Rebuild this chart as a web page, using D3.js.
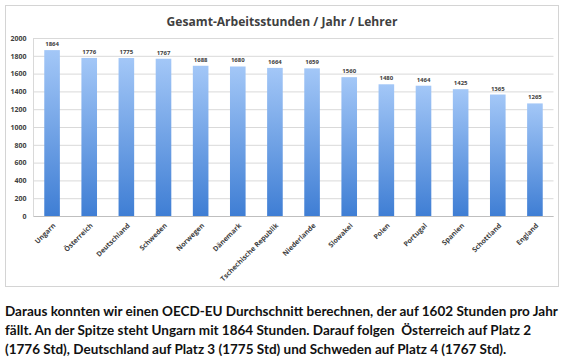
<!DOCTYPE html>
<html>
<head>
<meta charset="utf-8">
<script src="https://cdn.jsdelivr.net/npm/d3@7"></script>
<style>
  html, body { margin: 0; padding: 0; background: #fff; }
  svg { display: block; }
  .grid line { stroke: #d9d9d9; stroke-width: 1; }
  .grid .domain { display: none; }
  .axis text { font-family: "Open Sans", sans-serif; font-weight: 700; fill: #404040; }
  .axis .domain, .axis line { display: none; }
  .caption { white-space: pre; }
</style>
</head>
<body>
<div id="chart"></div>
<script>
const countries = ["Ungarn", "Österreich", "Deutschland", "Schweden", "Norwegen", "Dänemark", "Tschechische Republik", "Niederlande", "Slowakei", "Polen", "Portugal", "Spanien", "Schottland", "England"];
const hours = [1864, 1776, 1775, 1767, 1688, 1680, 1664, 1659, 1560, 1480, 1464, 1425, 1365, 1265];
const yTicks = [0, 200, 400, 600, 800, 1000, 1200, 1400, 1600, 1800, 2000];
const title = "Gesamt-Arbeitsstunden / Jahr / Lehrer";
const caption = [
  "Daraus konnten wir einen OECD-EU Durchschnitt berechnen, der auf 1602 Stunden pro Jahr",
  "fällt. An der Spitze steht Ungarn mit 1864 Stunden. Darauf folgen  Österreich auf Platz 2",
  "(1776 Std), Deutschland auf Platz 3 (1775 Std) und Schweden auf Platz 4 (1767 Std)."
];

const width = 567, height = 361;
const plot = { left: 33.5, right: 553.5, top: 38, bottom: 216 };

const svg = d3.select("#chart").append("svg").attr("width", width).attr("height", height);

// stretch a text element to a given width
function fitText(sel, target) {
  const w = sel.node().getComputedTextLength();
  const fs = parseFloat(sel.attr("font-size"));
  const size = fs * target / w;
  sel.attr("font-size", size.toFixed(2));
  return size;
}

const defs = svg.append("defs");
const grad = defs.append("linearGradient").attr("id", "barGrad").attr("x1", 0).attr("y1", 0).attr("x2", 0).attr("y2", 1);
grad.append("stop").attr("offset", "0%").attr("stop-color", "#a3c7f7");
grad.append("stop").attr("offset", "100%").attr("stop-color", "#3f7ed4");

// chart frame
svg.append("rect").attr("x", 5.5).attr("y", 5.5).attr("width", 553).attr("height", 281)
  .attr("fill", "#fff").attr("stroke", "#d4d4d4").attr("stroke-width", 1);

const x = d3.scaleBand().domain(countries).range([plot.left, plot.right]).paddingInner(0.58).paddingOuter(0.29);
const y = d3.scaleLinear().domain([0, 2000]).range([plot.bottom, plot.top]);

svg.append("g").attr("class", "grid").attr("transform", `translate(${plot.left},0)`)
  .call(d3.axisLeft(y).tickValues(yTicks).tickSize(-(plot.right - plot.left)).tickFormat(() => ""));

svg.append("line").attr("x1", plot.left).attr("x2", plot.left).attr("y1", plot.top).attr("y2", plot.bottom)
  .attr("stroke", "#d9d9d9");
svg.append("line").attr("x1", plot.left).attr("x2", plot.right).attr("y1", plot.bottom + 0.5).attr("y2", plot.bottom + 0.5)
  .attr("stroke", "#bfbfbf");

const yAxis = svg.append("g").attr("class", "axis").attr("transform", `translate(${plot.left - 7},0)`)
  .call(d3.axisLeft(y).tickValues(yTicks).tickSize(0).tickPadding(0).tickFormat(d3.format("d")));
yAxis.selectAll("text").attr("font-size", 7);

svg.append("g").selectAll("rect").data(countries).join("rect")
  .attr("x", d => x(d))
  .attr("width", x.bandwidth())
  .attr("y", (d, i) => y(hours[i]))
  .attr("height", (d, i) => y(0) - y(hours[i]))
  .attr("fill", "url(#barGrad)");

svg.append("g").selectAll("text").data(countries).join("text")
  .attr("x", d => x(d) + x.bandwidth() / 2)
  .attr("y", (d, i) => y(hours[i]) - 4)
  .attr("text-anchor", "middle")
  .attr("font-family", "Open Sans, sans-serif")
  .attr("font-weight", 700)
  .attr("font-size", 6)
  .attr("fill", "#404040")
  .text((d, i) => hours[i]);

const xAxis = svg.append("g").attr("class", "axis").attr("transform", `translate(0,${plot.bottom})`)
  .call(d3.axisBottom(x).tickSize(0).tickPadding(0));
xAxis.selectAll("text")
  .attr("font-size", 7)
  .attr("text-anchor", "end")
  .attr("dy", 0)
  .attr("transform", "translate(4,10) rotate(-45)");

const t = svg.append("text")
  .attr("x", 282).attr("y", 26)
  .attr("text-anchor", "middle")
  .attr("font-family", "Open Sans, sans-serif")
  .attr("font-weight", 700)
  .attr("font-size", 12)
  .attr("fill", "#404040")
  .text(title);
fitText(t, 231);

let capSize = 13;
caption.forEach((line, i) => {
  const c = svg.append("text")
    .attr("class", "caption")
    .attr("x", 5).attr("y", 316 + i * 19)
    .attr("font-family", "Lato, sans-serif")
    .attr("font-weight", 700)
    .attr("font-size", capSize)
    .attr("fill", "#111")
    .text(line);
  if (i === 0) capSize = fitText(c, 553);
});
</script>
</body>
</html>
